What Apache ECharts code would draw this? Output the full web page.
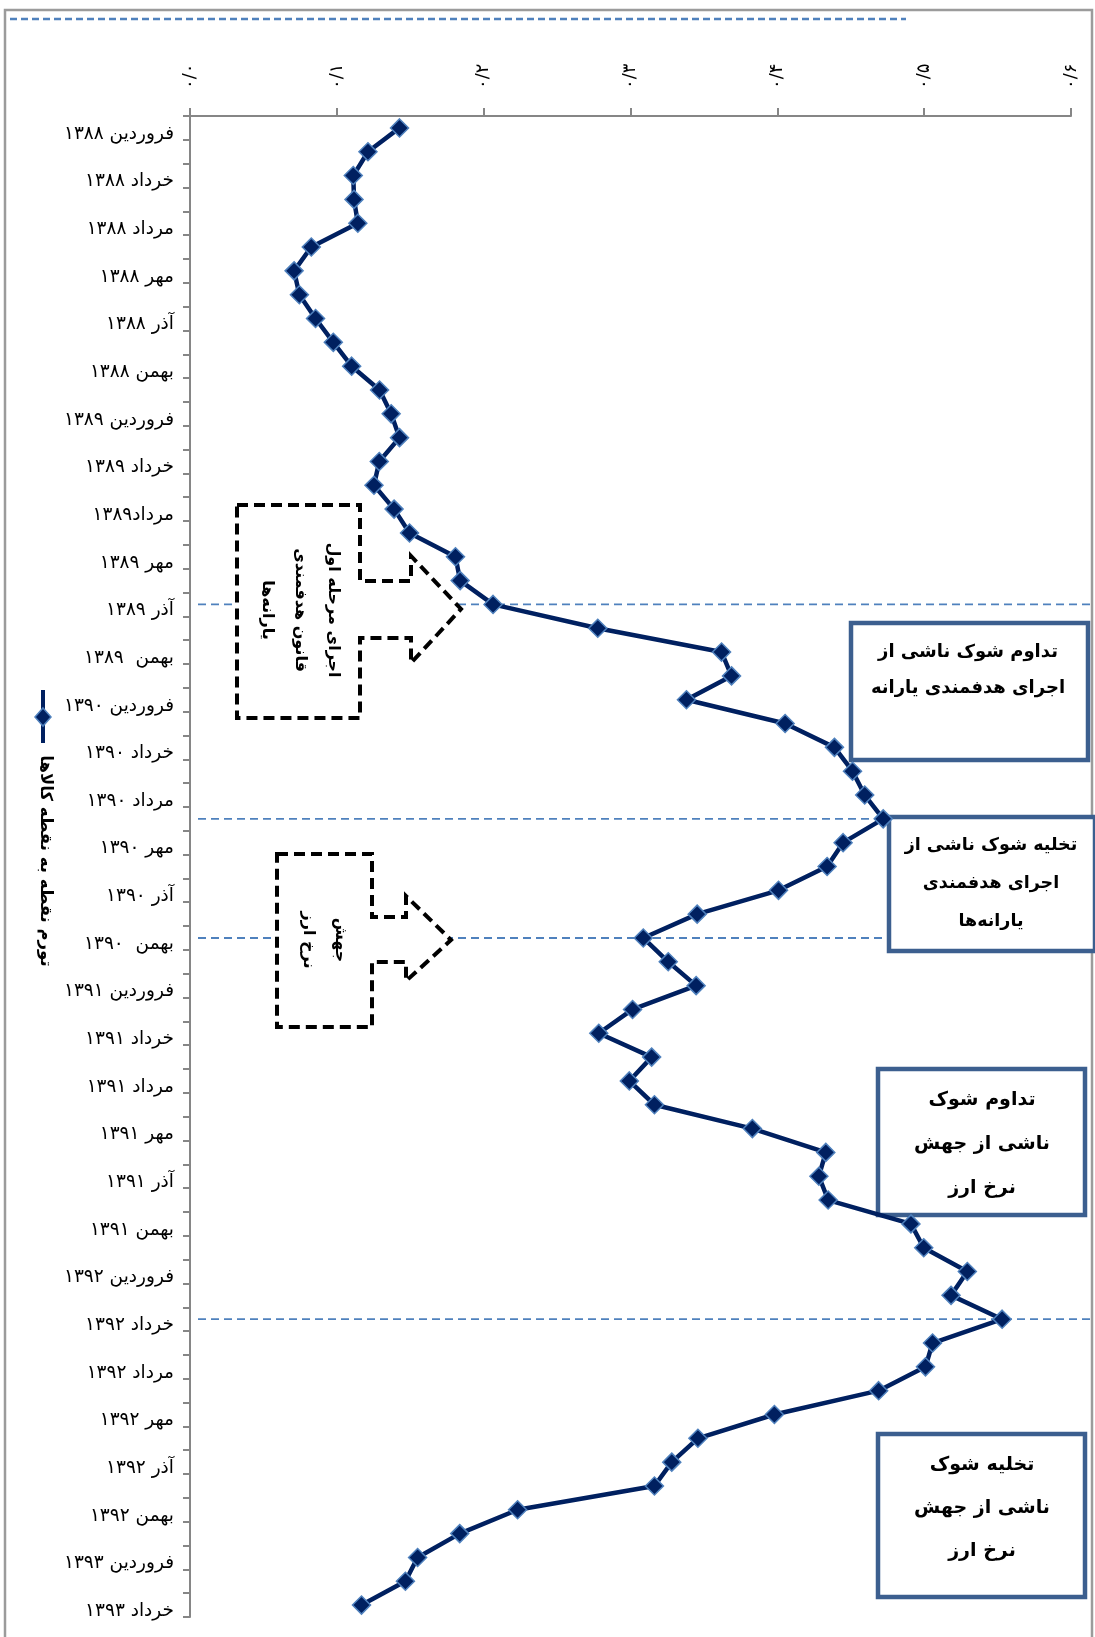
<!DOCTYPE html>
<html><head><meta charset="utf-8">
<script src="https://cdn.jsdelivr.net/npm/echarts@6/dist/echarts.min.js"></script>
<style>html,body{margin:0;padding:0;background:#fff}#c{width:1095px;height:1637px}</style>
</head><body><div id="c"></div>
<script>
const categories = [
 'فروردین ۱۳۸۸','اردیبهشت ۱۳۸۸','خرداد ۱۳۸۸','تیر ۱۳۸۸','مرداد ۱۳۸۸','شهریور ۱۳۸۸','مهر ۱۳۸۸','آبان ۱۳۸۸','آذر ۱۳۸۸','دی ۱۳۸۸','بهمن ۱۳۸۸','اسفند ۱۳۸۸',
 'فروردین ۱۳۸۹','اردیبهشت ۱۳۸۹','خرداد ۱۳۸۹','تیر ۱۳۸۹','مرداد۱۳۸۹','شهریور ۱۳۸۹','مهر ۱۳۸۹','آبان ۱۳۸۹','آذر ۱۳۸۹','دی ۱۳۸۹','بهمن  ۱۳۸۹','اسفند ۱۳۸۹',
 'فروردین ۱۳۹۰','اردیبهشت ۱۳۹۰','خرداد ۱۳۹۰','تیر ۱۳۹۰','مرداد ۱۳۹۰','شهریور ۱۳۹۰','مهر ۱۳۹۰','آبان ۱۳۹۰','آذر ۱۳۹۰','دی ۱۳۹۰','بهمن  ۱۳۹۰','اسفند ۱۳۹۰',
 'فروردین ۱۳۹۱','اردیبهشت ۱۳۹۱','خرداد ۱۳۹۱','تیر ۱۳۹۱','مرداد ۱۳۹۱','شهریور ۱۳۹۱','مهر ۱۳۹۱','آبان ۱۳۹۱','آذر ۱۳۹۱','دی ۱۳۹۱','بهمن ۱۳۹۱','اسفند ۱۳۹۱',
 'فروردین ۱۳۹۲','اردیبهشت ۱۳۹۲','خرداد ۱۳۹۲','تیر ۱۳۹۲','مرداد ۱۳۹۲','شهریور ۱۳۹۲','مهر ۱۳۹۲','آبان ۱۳۹۲','آذر ۱۳۹۲','دی ۱۳۹۲','بهمن ۱۳۹۲','اسفند ۱۳۹۲',
 'فروردین ۱۳۹۳','اردیبهشت ۱۳۹۳','خرداد ۱۳۹۳'
];
const inflation = [
 0.1427,0.1212,0.1112,0.1117,0.1143,0.0826,0.0709,0.0745,0.0855,0.0976,0.1101,0.1291,
 0.1370,0.1427,0.1289,0.1253,0.1390,0.1495,0.1808,0.1840,0.2064,0.2777,0.3620,0.3688,
 0.3381,0.4053,0.4389,0.4512,0.4595,0.4721,0.4448,0.4339,0.4008,0.3454,0.3087,0.3257,
 0.3447,0.3014,0.2784,0.3144,0.2992,0.3163,0.3830,0.4330,0.4283,0.4346,0.4910,0.4997,
 0.5294,0.5183,0.5531,0.5057,0.5009,0.4690,0.3980,0.3459,0.3281,0.3163,0.2231,0.1837,
 0.1550,0.1467,0.1168
];
const xTickLabels = ['۰/۰','۰/۱','۰/۲','۰/۳','۰/۴','۰/۵','۰/۶'];
const seriesName = 'تورم نقطه به نقطه کالاها';
const refLineIdx = [20, 29, 34, 50];
const arrowText1 = ['اجرای مرحله اول','قانون هدفمندی','یارانه‌ها'];
const arrowText2 = ['جهش','نرخ ارز'];
const boxTextA = ['تداوم شوک ناشی از','اجرای هدفمندی یارانه'];
const boxTextB = ['تخلیه شوک ناشی از','اجرای هدفمندی','یارانه‌ها'];
const boxTextC = ['تداوم شوک','ناشی از جهش','نرخ ارز'];
const boxTextD = ['تخلیه شوک','ناشی از جهش','نرخ ارز'];

const FONT = "'DejaVu Sans', sans-serif";
const chart = echarts.init(document.getElementById('c'), null, {renderer:'canvas'});

const option = {
  animation: false,
  backgroundColor: '#fff',
  grid: {left: 190, right: 24, top: 116, bottom: 20},
  xAxis: {
    type: 'value', position: 'top', min: 0, max: 0.6, interval: 0.1,
    axisLine: {show: true, lineStyle: {color: '#868686', width: 2}},
    axisTick: {show: true, length: 8, lineStyle: {color: '#868686', width: 2}},
    splitLine: {show: false},
    axisLabel: {rotate: -90, margin: 27, fontSize: 18, color: '#000', fontFamily: FONT,
      formatter: v => xTickLabels[Math.round(v * 10)]}
  },
  yAxis: {
    type: 'category', inverse: true, data: categories,
    axisLine: {show: true, lineStyle: {color: '#868686', width: 2}},
    axisTick: {show: true, length: 7, interval: 0, lineStyle: {color: '#868686', width: 2}},
    axisLabel: {interval: 1, margin: 16, fontSize: 18.5, color: '#000', fontFamily: FONT,
      verticalAlign: 'top', lineHeight: 12}
  },
  series: [{
    name: seriesName, type: 'line', data: inflation, z: 5,
    symbol: 'diamond', symbolSize: 18, showAllSymbol: true,
    lineStyle: {color: '#002060', width: 4.5},
    itemStyle: {color: '#002060', borderColor: '#4f81bd', borderWidth: 1.5}
  }]
};
chart.setOption(option);

function txt(lines, cx, cy, size, lh, rot) {
  return {type:'text', x: cx, y: cy, rotation: rot || 0, z: 4, silent: true,
    style: {text: lines.join('\n'), x: 0, y: 0, font: 'bold ' + size + 'px ' + FONT,
      fill: '#000', textAlign: 'center', textVerticalAlign: 'middle', align: 'center', verticalAlign: 'middle', lineHeight: lh}};
}
function box(x, y, w, h) {
  return {type:'rect', z: 3, silent: true, shape: {x, y, width: w, height: h},
    style: {fill: '#fff', stroke: '#3c5f8f', lineWidth: 4.5}};
}
const dashStyle = {stroke: '#4f81bd', lineWidth: 1.8, lineDash: [8, 5]};
const g = [];
g.push({type:'rect', z: 0, silent: true, shape: {x: 5, y: 10, width: 1087, height: 1650},
  style: {fill: null, stroke: '#9b9b9b', lineWidth: 2.5}});
g.push({type:'line', z: 1, silent: true, shape: {x1: 10, y1: 19, x2: 906, y2: 19},
  style: {stroke: '#4f81bd', lineWidth: 2.5, lineDash: [7, 4]}});
refLineIdx.forEach(i => {
  const y = chart.convertToPixel({yAxisIndex: 0}, categories[i]);
  g.push({type:'line', z: 1, silent: true, shape: {x1: 198, y1: y, x2: 1093, y2: y}, style: dashStyle});
});
const arrowStyle = {fill: '#fff', stroke: '#000', lineWidth: 4, lineDash: [11, 6]};
g.push({type:'polygon', z: 3, silent: true, shape: {points: [
  [237,505],[360,505],[360,581],[411,581],[411,556],[461,609],[411,663],[411,638],[360,638],[360,718],[237,718]]},
  style: arrowStyle});
g.push({type:'polygon', z: 3, silent: true, shape: {points: [
  [277,854],[372,854],[372,917],[406,917],[406,896],[451,940],[406,981],[406,962],[372,962],[372,1027],[277,1027]]},
  style: arrowStyle});
g.push(txt(arrowText1, 300, 610, 16, 33, -Math.PI/2));
g.push(txt(arrowText2, 324, 940, 16, 32, -Math.PI/2));
g.push(box(851, 623, 237, 137));
g.push(txt(boxTextA, 968, 670, 18, 36));
g.push(box(889, 817, 206, 134));
g.push(txt(boxTextB, 991, 883, 17.5, 38));
g.push(box(878, 1069, 207, 146));
g.push(txt(boxTextC, 982, 1144, 19, 44));
g.push(box(878, 1434, 207, 163));
g.push(txt(boxTextD, 982, 1508, 19, 43));
// legend
g.push({type:'line', z: 4, silent: true, shape: {x1: 43, y1: 690, x2: 43, y2: 743},
  style: {stroke: '#002060', lineWidth: 4}});
g.push({type:'polygon', z: 4, silent: true, shape: {points: [[43,708],[51,717],[43,726],[35,717]]},
  style: {fill: '#002060', stroke: '#4f81bd', lineWidth: 1.5}});
g.push(txt([seriesName], 45, 861, 16.5, 24, -Math.PI/2));
chart.setOption({graphic: {elements: g}});
</script>
</body></html>
